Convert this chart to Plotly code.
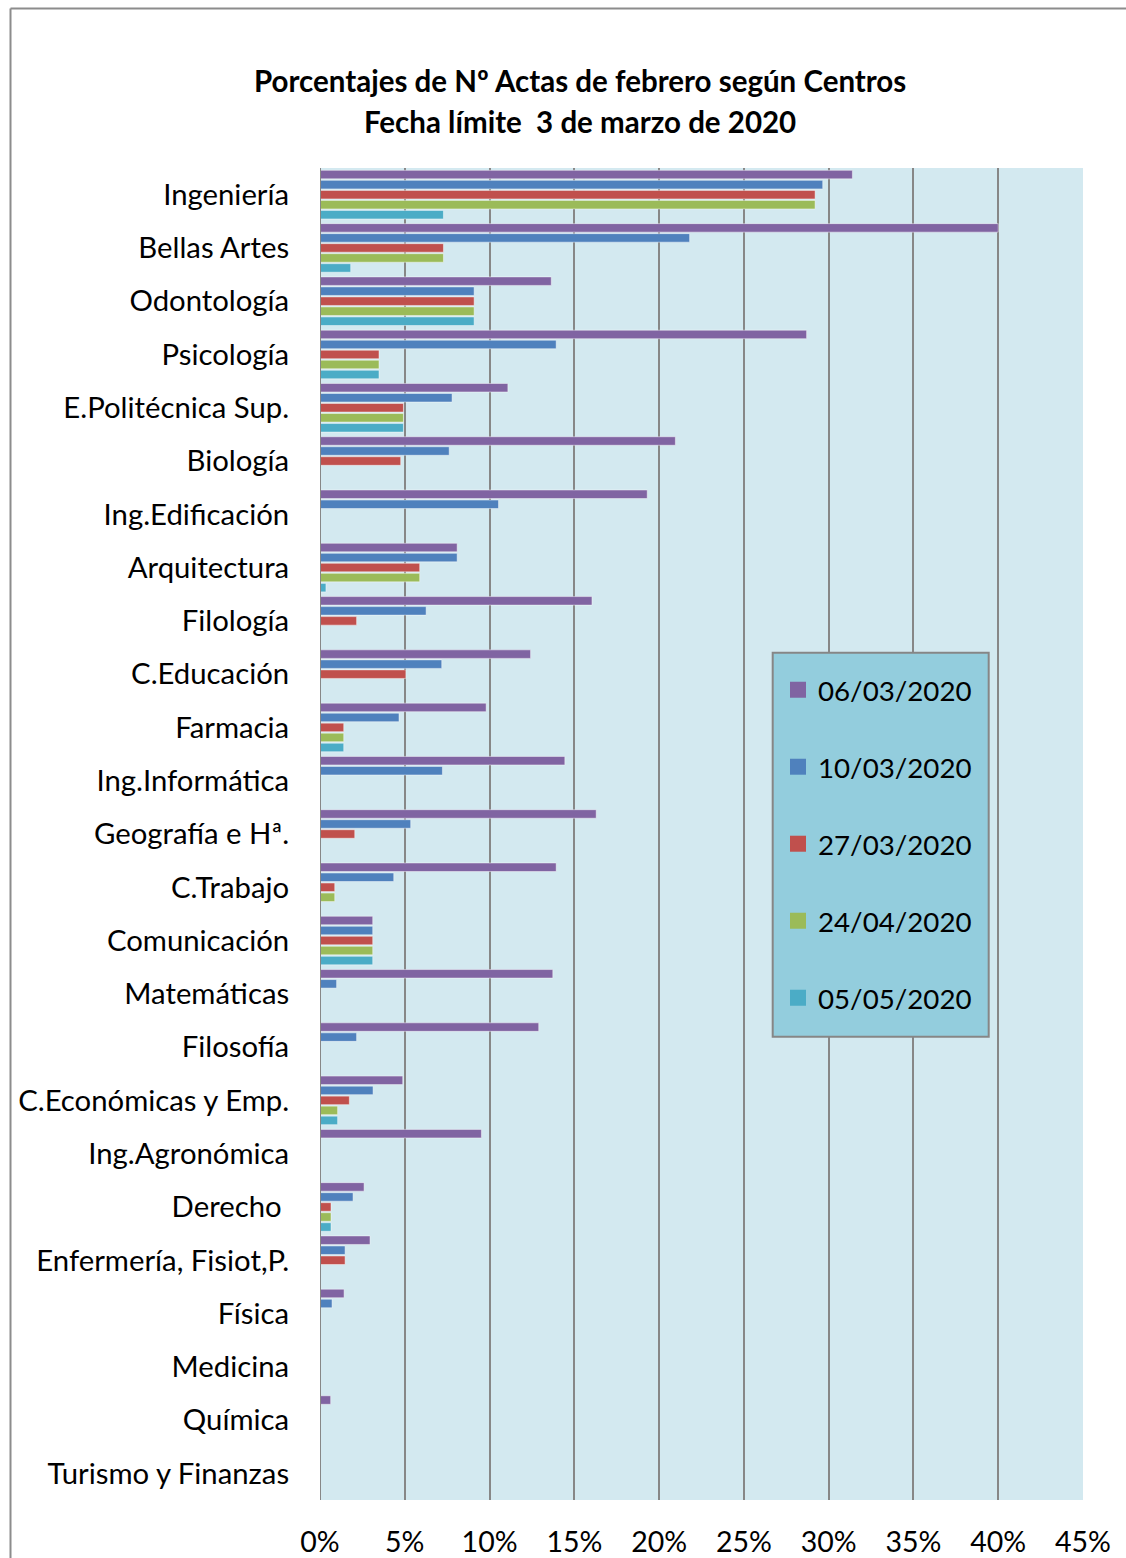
import plotly.graph_objects as go

categories = ["Ingeniería", "Bellas Artes", "Odontología", "Psicología", "E.Politécnica Sup.",
              "Biología", "Ing.Edificación", "Arquitectura", "Filología", "C.Educación",
              "Farmacia", "Ing.Informática", "Geografía e Hª.", "C.Trabajo", "Comunicación",
              "Matemáticas", "Filosofía", "C.Económicas y Emp.", "Ing.Agronómica", "Derecho ",
              "Enfermería, Fisiot,P.", "Física", "Medicina", "Química", "Turismo y Finanzas"]

series_names = ["06/03/2020", "10/03/2020", "27/03/2020", "24/04/2020", "05/05/2020"]

s_0603 = [31.4, 40.0, 13.64, 28.7, 11.08, 20.96, 19.3, 8.09, 16.04, 12.42,
          9.8, 14.44, 16.29, 13.93, 3.11, 13.73, 12.9, 4.88, 9.52, 2.6,
          2.95, 1.42, 0.0, 0.63, 0.0]
s_1003 = [29.65, 21.8, 9.09, 13.93, 7.79, 7.62, 10.53, 8.09, 6.26, 7.18,
          4.66, 7.22, 5.35, 4.35, 3.11, 0.98, 2.16, 3.13, 0.0, 1.95,
          1.48, 0.71, 0.0, 0.0, 0.0]
s_2703 = [29.2, 7.28, 9.09, 3.48, 4.92, 4.76, 0.0, 5.88, 2.16, 5.06,
          1.4, 0.0, 2.05, 0.87, 3.11, 0.0, 0.0, 1.73, 0.0, 0.65,
          1.48, 0.0, 0.0, 0.0, 0.0]
s_2404 = [29.2, 7.28, 9.09, 3.48, 4.92, 0.0, 0.0, 5.88, 0.0, 0.0,
          1.4, 0.0, 0.0, 0.87, 3.11, 0.0, 0.0, 1.04, 0.0, 0.65,
          0.0, 0.0, 0.0, 0.0, 0.0]
s_0505 = [7.28, 1.81, 9.09, 3.48, 4.92, 0.0, 0.0, 0.35, 0.0, 0.0,
          1.4, 0.0, 0.0, 0.0, 3.11, 0.0, 0.0, 1.04, 0.0, 0.65,
          0.0, 0.0, 0.0, 0.0, 0.0]

series_values = [s_0603, s_1003, s_2703, s_2404, s_0505]
colors = ["#8064A2", "#4F81BD", "#C0504D", "#9BBB59", "#4BACC6"]

tick_vals = [0, 5, 10, 15, 20, 25, 30, 35, 40, 45]
tick_text = ["0%", "5%", "10%", "15%", "20%", "25%", "30%", "35%", "40%", "45%"]

W, H = 1126, 1558
L, T = 320, 168
R = W - 1083
B = H - 1500
pw, ph = W - L - R, H - T - B

def px_x(p):
    return (p - L) / pw

def px_y(p):
    return (H - B - p) / ph

fig = go.Figure()
for name, vals, col in zip(series_names, series_values, colors):
    fig.add_trace(go.Bar(
        y=categories, x=vals, name=name, orientation="h",
        marker=dict(color=col, line=dict(color="rgba(255,255,255,0.45)", width=1)),
        showlegend=False,
    ))
# legend entries (larger square symbols, like the original)
for name, col in zip(series_names, colors):
    fig.add_trace(go.Scatter(
        x=[None], y=[None], mode="markers", name=name, legendgroup=name,
        marker=dict(symbol="square", size=18, color=col),
        showlegend=True,
    ))

font_family = "Lato, 'Open Sans', sans-serif"

fig.update_layout(
    width=W, height=H,
    margin=dict(l=L, r=R, t=T, b=B, autoexpand=False),
    paper_bgcolor="white",
    plot_bgcolor="#D3E9F0",
    barmode="group",
    bargap=0.06,
    bargroupgap=0.15,
    font=dict(family=font_family, color="black"),
    showlegend=True,
    legend=dict(
        x=px_x(778), y=px_y(665.2), xanchor="left", yanchor="top",
        bgcolor="rgba(0,0,0,0)", borderwidth=0,
        font=dict(size=27.7, color="black", family=font_family),
        tracegroupgap=38, traceorder="grouped", itemsizing="trace",
    ),
    xaxis=dict(
        range=[0, 45], tickvals=tick_vals, ticktext=tick_text,
        showgrid=True, gridcolor="#878787", gridwidth=2,
        zeroline=False, showline=False, automargin=False,
        tickfont=dict(size=28.5, color="black"),
        ticks="outside", ticklen=17, tickcolor="rgba(0,0,0,0)",
        fixedrange=True,
    ),
    yaxis=dict(
        autorange="reversed", type="category",
        showgrid=False, zeroline=False, automargin=False,
        showline=False,
        tickfont=dict(size=29.3, color="black"),
        ticks="outside", ticklen=24, tickcolor="rgba(0,0,0,0)",
    ),
    shapes=[
        # left axis line at 0
        dict(type="line", xref="x", yref="paper", x0=0, x1=0, y0=0, y1=1,
             line=dict(color="#878787", width=2), layer="above"),
        # legend box
        dict(type="rect", xref="paper", yref="paper",
             x0=px_x(772.7), x1=px_x(988.7), y0=px_y(1036.7), y1=px_y(652.7),
             fillcolor="#93CDDD", line=dict(color="#868686", width=2), layer="above"),
        # outer chart frame (partially visible)
        dict(type="line", xref="paper", yref="paper",
             x0=px_x(10.5), x1=px_x(10.5), y0=px_y(8.5), y1=px_y(1600),
             line=dict(color="#8C8C8C", width=2)),
        dict(type="line", xref="paper", yref="paper",
             x0=px_x(10.5), x1=px_x(1200), y0=px_y(8.5), y1=px_y(8.5),
             line=dict(color="#8C8C8C", width=2)),
    ],
    annotations=[
        dict(text="<b>Porcentajes de Nº Actas de febrero según Centros</b>",
             xref="paper", yref="paper", x=px_x(580), y=px_y(81),
             xanchor="center", yanchor="middle", showarrow=False,
             font=dict(size=29.5, color="black", family=font_family)),
        dict(text="<b>Fecha límite  3 de marzo de 2020</b>",
             xref="paper", yref="paper", x=px_x(580), y=px_y(121),
             xanchor="center", yanchor="middle", showarrow=False,
             font=dict(size=29.5, color="black", family=font_family)),
    ],
)

# place the figure flush with the window (no default body margin / scrollbars)
page_fix = ("document.documentElement.style.margin='0';"
            "document.documentElement.style.overflow='hidden';"
            "document.body.style.margin='0';"
            "document.body.style.overflow='hidden';")

fig.write_html("out.html", post_script=page_fix, config={"displayModeBar": False})
